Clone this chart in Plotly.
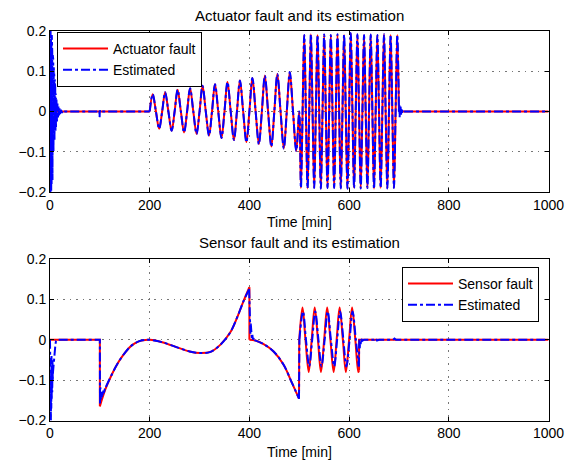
import plotly.graph_objects as go

# ---------------- data ----------------
x_ticks = [0, 200, 400, 600, 800, 1000]
y_ticks = [-0.2, -0.1, 0, 0.1, 0.2]

# --- Actuator fault (top) ---
act_flat1_t = [0, 200]
act_flat1_v = [0, 0]
# growing oscillation 200-500 (zero crossings, peaks, troughs)
act_lf_t = [200, 206, 212.5, 219, 225, 231, 237.5, 244, 250, 256, 262.5, 269, 275, 281, 287.5, 294,
            300, 306, 312.5, 319, 325, 331, 337.5, 344, 350, 356, 362.5, 369, 375, 381, 387.5, 394,
            400, 406, 412.5, 419, 425, 431, 437.5, 444, 450, 456, 462.5, 469, 475, 481, 487.5, 494, 500]
act_lf_v = [0, .043, 0, -.043, 0, .048, 0, -.048, 0, .054, 0, -.052, 0, .058, 0, -.056,
            0, .064, 0, -.060, 0, .068, 0, -.066, 0, .073, 0, -.071, 0, .077, 0, -.076,
            0, .083, 0, -.081, 0, .089, 0, -.087, 0, .093, 0, -.092, 0, .098, 0, -.098, 0]
# fast oscillation 500-700
act_hf_t = [503.3, 506.7, 510, 513.3, 516.7, 520, 523.3, 526.7, 530, 533.3, 536.7, 540,
            543.3, 546.7, 550, 553.3, 556.7, 560, 563.3, 566.7, 570, 573.3, 576.7, 580,
            583.3, 586.7, 590, 593.3, 596.7, 600, 603.3, 606.7, 610, 613.3, 616.7, 620,
            623.3, 626.7, 630, 633.3, 636.7, 640, 643.3, 646.7, 650, 653.3, 656.7, 660,
            663.3, 666.7, 670, 673.3, 676.7, 680, 683.3, 686.7, 690, 693.3, 696.7, 700]
act_hf_v = [-0.19, 0, 0.19, 0, -0.191, 0, 0.192, 0, -0.19, 0, 0.19, 0,
            -0.192, 0, 0.191, 0, -0.19, 0, 0.19, 0, -0.19, 0, 0.192, 0,
            -0.191, 0, 0.19, 0, -0.192, 0, 0.195, 0, -0.19, 0, 0.192, 0,
            -0.191, 0, 0.19, 0, -0.19, 0, 0.191, 0, -0.192, 0, 0.19, 0,
            -0.19, 0, 0.192, 0, -0.191, 0, 0.19, 0, -0.19, 0, 0.19, 0]
act_flat2_t = [700, 1000]
act_flat2_v = [0, 0]

# estimate: initial transient, small spike at 100, ringing after 700
act_est_start_t = [0, 0.4, 0.8, 1.2, 1.6, 2, 2.4, 2.8, 3.2, 3.6, 4, 4.5, 5, 5.5, 6, 6.5, 7, 7.5, 8, 8.5,
                   9, 9.5, 10, 10.5, 11, 11.5, 12, 13, 14, 15, 16, 17, 18, 19, 20, 22, 24, 26, 28, 30,
                   98, 99, 99.5, 100, 101, 102, 200]
act_est_start_v = [0, 0.19, -0.2, 0.2, -0.19, 0.18, -0.2, 0.17, -0.18, 0.19, -0.16, 0.15, -0.17, 0.14,
                   -0.12, 0.13, -0.1, 0.11, -0.09, 0.09, -0.07, 0.08, -0.06, 0.06, -0.05, 0.045, -0.04,
                   0.03, -0.025, 0.02, -0.015, 0.012, -0.01, 0.008, -0.006, 0.004, -0.003, 0.002, -0.001, 0,
                   0, 0.002, -0.014, 0.003, -0.003, 0, 0]
act_est_end_t = [700, 700.7, 701.4, 702, 702.7, 703.4, 704.2, 705, 706, 707, 708.5, 710, 1000]
act_est_end_v = [0, 0.016, -0.014, 0.013, -0.012, 0.01, -0.008, 0.006, -0.004, 0.003, -0.002, 0, 0]

# --- Sensor fault (bottom) ---
sen_step1_t = [0, 100, 100]
sen_step1_v = [0, 0, -0.165]
sen_curve1_t = [100, 111, 124, 138, 151, 164, 178, 191, 200, 225, 258, 280, 301, 322, 342, 362, 375, 388, 400]
sen_curve1_v = [-0.165, -0.123, -0.086, -0.054, -0.031, -0.014, -0.004, -0.0005, 0, -0.006, -0.02,
                -0.029, -0.033, -0.03, -0.012, 0.019, 0.054, 0.095, 0.13]
sen_step2_t = [400, 400]
sen_step2_v = [0.13, 0]
sen_curve2_t = [400, 412, 428.5, 448.5, 468.6, 485.4, 499.5]
sen_curve2_v = [0, -0.002, -0.011, -0.029, -0.062, -0.107, -0.146]
sen_step3_t = [499.5, 500]
sen_step3_v = [-0.146, 0]
sen_osc_t = [500, 506.5, 512.5, 519, 525, 531, 537.5, 543.5, 550, 556, 562.5, 569, 575, 581, 587.5,
             593.5, 600, 606, 612.5, 618.5, 620]
sen_osc_v = [0, 0.08, 0, -0.08, 0, 0.08, 0, -0.08, 0, 0.08, 0, -0.08, 0, 0.08, 0,
             -0.08, 0, 0.08, 0, -0.08, -0.076]
sen_tail_t = [620, 620, 1000]
sen_tail_v = [-0.076, 0, 0]

# estimate
sen_est1_t = [0, 0.3, 0.7, 1.0, 1.4, 1.8, 2.2, 2.6, 3.0, 3.5, 4.0, 4.5, 5.0, 5.5, 6, 7, 8, 9, 10, 11, 12, 14,
              100, 100.3, 101, 102, 103, 104, 105, 106, 107, 108, 110, 112]
sen_est1_v = [0, -0.19, -0.02, -0.18, -0.05, -0.2, -0.08, -0.17, -0.04, -0.15, -0.07, -0.13, -0.05, -0.1,
              -0.08, -0.06, -0.045, -0.03, -0.02, -0.01, -0.004, 0,
              0, -0.158, -0.118, -0.148, -0.125, -0.142, -0.128, -0.138, -0.126, -0.132, -0.122, -0.117]
sen_est2_t = [112, 124, 138, 151, 164, 178, 191, 200, 225, 258, 280, 301, 322, 342, 362, 375, 388, 399.5]
sen_est2_v = [-0.117, -0.086, -0.054, -0.031, -0.014, -0.004, -0.0005, 0, -0.006, -0.02, -0.029, -0.033,
              -0.03, -0.012, 0.019, 0.054, 0.095, 0.125]
sen_est3_t = [399.5, 400.2, 400.8, 401.4, 402, 402.7, 403.4, 404.2, 405, 406, 407, 408, 410]
sen_est3_v = [0.125, 0.07, 0.03, 0.055, 0.015, 0.04, 0.008, 0.025, 0.003, 0.012, 0.0, 0.004, -0.001]
sen_est4_t = [410, 428.5, 448.5, 468.6, 485.4, 499.5]
sen_est4_v = [-0.001, -0.011, -0.029, -0.062, -0.107, -0.146]
sen_est5_t = [499.5, 500.3]
sen_est5_v = [-0.146, 0]
sen_est6_t = [500.3, 507.5, 513.5, 520, 526, 532, 538.5, 544.5, 551, 557, 563.5, 570, 576, 582, 588.5,
              594.5, 601, 607, 613.5, 619.5]
sen_est6_v = [0, 0.07, 0, -0.066, 0, 0.07, 0, -0.066, 0, 0.07, 0, -0.066, 0, 0.07, 0,
              -0.066, 0, 0.07, 0, -0.066]
sen_est7_t = [619.5, 620.5, 621.3, 622, 623, 624, 626, 630, 650, 653, 656, 660, 688, 691, 694, 1000]
sen_est7_v = [-0.066, 0.0, -0.022, -0.005, -0.015, 0.003, -0.003, 0, 0, 0.004, -0.002, 0, 0, 0.003, 0, 0]

# ---------------- figure ----------------
W, H = 574, 464
FONT = "Liberation Sans, Arial, Helvetica, sans-serif"
RED = "#FF0000"
BLUE = "#0000FF"

fig = go.Figure()


def add(t, v, color, dash, shape, name, show, xa, ya, legend):
    fig.add_trace(go.Scatter(
        x=t, y=v, mode="lines", name=name, legendgroup=name + legend, showlegend=show,
        line=dict(color=color, width=2, dash=dash, shape=shape, smoothing=1 if shape == "spline" else None),
        xaxis=xa, yaxis=ya, legend=legend, hoverinfo="skip"))


# top
add(act_flat1_t, act_flat1_v, RED, "solid", "linear", "Actuator fault", True, "x", "y", "legend")
add(act_lf_t + act_hf_t, act_lf_v + act_hf_v, RED, "solid", "spline", "Actuator fault", False, "x", "y", "legend")
add(act_flat2_t, act_flat2_v, RED, "solid", "linear", "Actuator fault", False, "x", "y", "legend")
add(act_est_start_t, act_est_start_v, BLUE, "dashdot", "linear", "Estimated", True, "x", "y", "legend")
add(act_lf_t + act_hf_t, act_lf_v + act_hf_v, BLUE, "dashdot", "spline", "Estimated", False, "x", "y", "legend")
add(act_est_end_t, act_est_end_v, BLUE, "dashdot", "linear", "Estimated", False, "x", "y", "legend")

# bottom
add(sen_step1_t, sen_step1_v, RED, "solid", "linear", "Sensor fault", True, "x2", "y2", "legend2")
add(sen_curve1_t, sen_curve1_v, RED, "solid", "spline", "Sensor fault", False, "x2", "y2", "legend2")
add(sen_step2_t, sen_step2_v, RED, "solid", "linear", "Sensor fault", False, "x2", "y2", "legend2")
add(sen_curve2_t, sen_curve2_v, RED, "solid", "spline", "Sensor fault", False, "x2", "y2", "legend2")
add(sen_step3_t, sen_step3_v, RED, "solid", "linear", "Sensor fault", False, "x2", "y2", "legend2")
add(sen_osc_t, sen_osc_v, RED, "solid", "spline", "Sensor fault", False, "x2", "y2", "legend2")
add(sen_tail_t, sen_tail_v, RED, "solid", "linear", "Sensor fault", False, "x2", "y2", "legend2")
add(sen_est1_t, sen_est1_v, BLUE, "dashdot", "linear", "Estimated", True, "x2", "y2", "legend2")
add(sen_est2_t, sen_est2_v, BLUE, "dashdot", "spline", "Estimated", False, "x2", "y2", "legend2")
add(sen_est3_t, sen_est3_v, BLUE, "dashdot", "linear", "Estimated", False, "x2", "y2", "legend2")
add(sen_est4_t, sen_est4_v, BLUE, "dashdot", "spline", "Estimated", False, "x2", "y2", "legend2")
add(sen_est5_t, sen_est5_v, BLUE, "dashdot", "linear", "Estimated", False, "x2", "y2", "legend2")
add(sen_est6_t, sen_est6_v, BLUE, "dashdot", "spline", "Estimated", False, "x2", "y2", "legend2")
add(sen_est7_t, sen_est7_v, BLUE, "dashdot", "linear", "Estimated", False, "x2", "y2", "legend2")

xdom = [50 / W, 548.5 / W]
common_x = dict(range=[0, 1000], tickvals=x_ticks, ticks="inside", ticklen=4, tickcolor="black",
                showline=True, linecolor="black", linewidth=1, mirror="allticks",
                showgrid=True, gridcolor="#777777", griddash="1.5px,5px", gridwidth=1,
                zeroline=False, domain=xdom, automargin=False,
                tickfont=dict(family=FONT, size=14, color="black"))
common_y = dict(range=[-0.2, 0.2], tickvals=y_ticks, ticks="inside", ticklen=4, tickcolor="black",
                showline=True, linecolor="black", linewidth=1, mirror="allticks",
                showgrid=True, gridcolor="#777777", griddash="1.5px,5px", gridwidth=1,
                zeroline=False, automargin=False,
                tickfont=dict(family=FONT, size=14, color="black"))

legend_common = dict(bgcolor="white", bordercolor="black", borderwidth=1,
                     font=dict(family=FONT, size=14, color="black"),
                     tracegroupgap=0, itemwidth=45, xref="paper", yref="paper")

fig.update_layout(
    template="none",
    width=W, height=H,
    margin=dict(l=0, r=0, t=0, b=0, autoexpand=False),
    paper_bgcolor="white", plot_bgcolor="white",
    xaxis=dict(common_x, anchor="y"),
    yaxis=dict(common_y, anchor="x", domain=[1 - 192 / H, 1 - 31 / H]),
    xaxis2=dict(common_x, anchor="y2"),
    yaxis2=dict(common_y, anchor="x2", domain=[1 - 420.5 / H, 1 - 259 / H]),
    legend=dict(legend_common, x=57 / W, y=1 - 32 / H, xanchor="left", yanchor="top"),
    legend2=dict(legend_common, x=539 / W, y=1 - 267 / H, xanchor="right", yanchor="top"),
    showlegend=True,
    annotations=[
        dict(text="Actuator fault and its estimation", x=299 / W, y=1 - 15 / H, xref="paper", yref="paper",
             showarrow=False, xanchor="center", yanchor="middle", font=dict(family=FONT, size=15, color="black")),
        dict(text="Time [min]", x=299 / W, y=1 - 222 / H, xref="paper", yref="paper",
             showarrow=False, xanchor="center", yanchor="middle", font=dict(family=FONT, size=14, color="black")),
        dict(text="Sensor fault and its estimation", x=299 / W, y=1 - 243 / H, xref="paper", yref="paper",
             showarrow=False, xanchor="center", yanchor="middle", font=dict(family=FONT, size=15, color="black")),
        dict(text="Time [min]", x=299 / W, y=1 - 452 / H, xref="paper", yref="paper",
             showarrow=False, xanchor="center", yanchor="middle", font=dict(family=FONT, size=14, color="black")),
    ],
)

fig.write_html("out.html", config={"displayModeBar": False},
               post_script="document.body.style.margin='0px';document.body.style.overflow='hidden';")
